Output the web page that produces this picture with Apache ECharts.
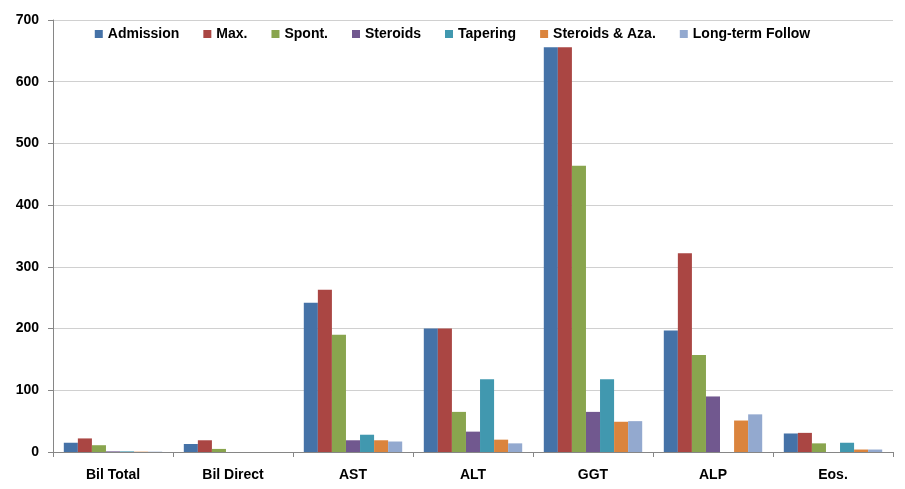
<!DOCTYPE html>
<html>
<head>
<meta charset="utf-8">
<script src="https://cdn.jsdelivr.net/npm/echarts@6/dist/echarts.min.js"></script>
<style>html,body{margin:0;padding:0;background:#fff;}#c{width:905px;height:489px;}</style>
</head>
<body>
<div id="c"></div>
<script>
const categories = ['Bil Total', 'Bil Direct', 'AST', 'ALT', 'GGT', 'ALP', 'Eos.'];
const seriesNames = ['Admission', 'Max.', 'Spont.', 'Steroids', 'Tapering', 'Steroids & Aza.', 'Long-term Follow'];
const admission = [15, 13, 242, 200, 656, 197, 30];
const maxVals = [22, 19, 263, 200, 656, 322, 31];
const spont = [11, 5, 190, 65, 464, 157, 14];
const steroids = [1, 0, 19, 33, 65, 90, 0];
const tapering = [1, 0, 28, 118, 118, 0, 15];
const steroidsAza = [0.5, 0, 19, 20, 49, 51, 4];
const longTerm = [0.5, 0, 17, 14, 50, 61, 4];
const yTicks = [0, 100, 200, 300, 400, 500, 600, 700];

const colors = ['#4572A7', '#AA4643', '#89A54E', '#71588F', '#4198AF', '#DB843D', '#93A9CF'];
const dataSets = [admission, maxVals, spont, steroids, tapering, steroidsAza, longTerm];
const font = '"Liberation Sans", Arial, sans-serif';

const chart = echarts.init(document.getElementById('c'));
chart.setOption({
  animation: false,
  color: colors,
  grid: { left: 53, right: 12, top: 20, bottom: 37, containLabel: false },
  legend: {
    top: 22,
    left: 'center',
    itemWidth: 8,
    itemHeight: 8,
    itemGap: 24,
    icon: 'rect',
    textStyle: { fontFamily: font, fontWeight: 'bold', fontSize: 14, color: '#000' },
    data: seriesNames
  },
  xAxis: {
    type: 'category',
    data: categories,
    boundaryGap: true,
    axisLine: { lineStyle: { color: '#868686' } },
    axisTick: { show: true, length: 5, lineStyle: { color: '#868686' } },
    axisLabel: { fontFamily: font, fontWeight: 'bold', fontSize: 14, color: '#000', margin: 16 }
  },
  yAxis: {
    type: 'value',
    min: yTicks[0],
    max: yTicks[yTicks.length - 1],
    interval: 100,
    axisLine: { show: true, lineStyle: { color: '#868686' } },
    axisTick: { show: true, length: 5, lineStyle: { color: '#868686' } },
    splitLine: { lineStyle: { color: '#D0D0D0' } },
    axisLabel: { fontFamily: font, fontWeight: 'bold', fontSize: 14, color: '#000', margin: 14 }
  },
  series: seriesNames.map((n, i) => ({
    name: n,
    type: 'bar',
    data: dataSets[i],
    barGap: '0%',
    barCategoryGap: '18%',
    itemStyle: { color: colors[i] }
  }))
});
</script>
</body>
</html>
